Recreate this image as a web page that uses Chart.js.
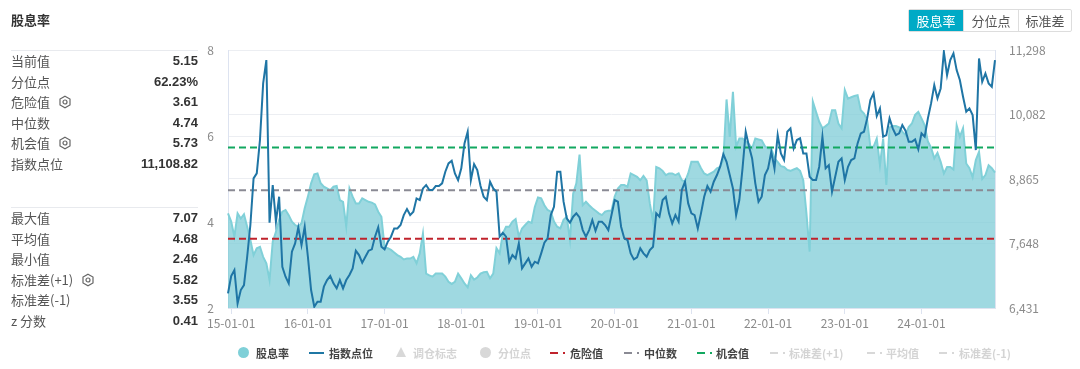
<!DOCTYPE html>
<html>
<head>
<meta charset="utf-8">
<script src="https://cdn.jsdelivr.net/npm/chart.js@4/dist/chart.umd.min.js"></script>
<style>
  html, body { margin: 0; padding: 0; background: #fff; }
  body { width: 1080px; height: 369px; position: relative; overflow: hidden; font-family: "Noto Sans CJK SC", sans-serif; }
  canvas { position: absolute; left: 0; top: 0; }
  .title { position: absolute; left: 11px; top: 11px; font-size: 13px; line-height: 18px; font-weight: 700; color: #333; }
  .rule { position: absolute; left: 11px; width: 187px; height: 1px; background: #e8eaee; }
  .row { position: absolute; left: 11px; width: 187px; height: 20px; line-height: 20px; font-size: 13px; color: #555; }
  .row b { position: absolute; right: 0; top: 0; font-family: "Liberation Sans", sans-serif; font-size: 13px; color: #333; }
  .row svg { position: absolute; top: 3px; }
  .btns { position: absolute; left: 908px; top: 9px; height: 23px; width: 164px; display: flex; box-sizing: border-box; border: 1px solid #ddd; border-radius: 2px; }
  .btns span { height: 21px; line-height: 21px; text-align: center; font-size: 13px; color: #555; border-left: 1px solid #ddd; box-sizing: border-box; }
  .btns span.on { background: #00aac6; color: #fff; border-left: 0; }
  .lg { position: absolute; top: 345px; height: 16px; line-height: 16px; font-size: 11px; font-weight: 700; color: #444; white-space: nowrap; }
  .lg.off { color: #d4d4d4; }
  .mk { position: absolute; }
</style>
</head>
<body>
<canvas id="yield_chart" width="1080" height="369"></canvas>
<div class="title">股息率</div>
<div class="btns"><span class="on" style="width:54px">股息率</span><span style="width:55px">分位点</span><span style="width:53px">标准差</span></div>
<div id="side"></div>
<div id="legend"></div>

<script>
// sidebar numbers
var sideTop = [["当前值", "5.15"], ["分位点", "62.23%"], ["危险值", "3.61", 47], ["中位数", "4.74"], ["机会值", "5.73", 47], ["指数点位", "11,108.82"]];
var sideBottom = [["最大值", "7.07"], ["平均值", "4.68"], ["最小值", "2.46"], ["标准差(+1)", "5.82", 70], ["标准差(-1)", "3.55"], ["z 分数", "0.41"]];

var leftTicks = [2, 4, 6, 8];
var rightTicks = [6431, 7648, 8865, 10082, 11298];

var dangerValue = 3.61;
var medianValue = 4.74;
var chanceValue = 5.73;

// half-month samples, 14-12-15 to 24-12-15
var dates = ["14-12-15"];
for (var yy = 15; yy <= 24; yy++) {
  for (var mm = 1; mm <= 12; mm++) {
    var m = (mm < 10 ? "0" : "") + mm;
    dates.push(yy + "-" + m + "-01");
    dates.push(yy + "-" + m + "-15");
  }
}

var yieldValues = [
  4.20,4.01,3.66,4.20,4.08,4.18,3.89,3.58,3.23,3.39,3.42,3.19,3.04,2.65,3.54,3.77,4.05,4.24,4.28,4.16,
  4.01,3.93,3.89,3.97,4.32,4.59,4.90,5.11,5.13,4.90,4.82,4.78,4.74,4.82,4.84,4.51,4.47,3.90,4.78,4.59,
  4.43,4.43,4.55,4.51,4.47,4.45,4.41,4.24,4.12,3.41,3.39,3.35,3.29,3.23,3.19,3.13,3.15,3.15,3.19,3.04,
  3.27,3.73,2.80,2.76,2.73,2.80,2.80,2.80,2.73,2.61,2.56,2.61,2.80,2.69,2.57,2.48,2.76,2.66,2.71,2.80,
  2.83,2.84,2.69,2.80,3.39,3.27,3.73,3.89,3.89,4.01,4.07,3.66,3.85,3.93,4.01,3.98,4.35,4.57,4.55,4.39,
  4.28,4.24,4.01,3.89,3.85,4.05,4.12,3.58,4.66,4.90,5.57,4.39,4.47,4.39,4.32,4.26,4.20,4.16,4.24,4.26,
  4.26,4.59,4.78,4.86,4.86,4.82,5.13,5.09,5.05,4.97,5.07,4.97,4.43,4.01,5.28,5.25,5.19,5.09,5.13,5.13,
  5.09,5.13,4.97,4.94,5.13,5.40,5.40,5.40,5.25,5.13,5.09,5.13,5.17,5.25,5.28,5.44,6.85,5.98,7.03,5.75,
  5.94,5.94,5.87,5.81,5.71,5.94,5.92,5.90,5.76,5.71,5.71,5.48,5.40,5.30,5.28,5.21,5.19,5.22,5.25,5.19,
  4.97,4.20,3.31,6.80,6.56,6.33,6.18,6.23,6.29,6.60,6.60,6.29,6.18,7.07,6.87,6.90,6.93,6.95,6.60,6.52,
  6.37,5.75,5.75,5.94,5.32,5.94,4.86,6.20,6.23,6.23,6.20,6.10,6.02,6.21,6.29,6.49,6.56,6.41,6.25,5.87,
  5.73,5.48,5.61,5.40,5.13,5.28,5.28,5.22,6.25,5.98,6.18,5.36,5.25,5.04,5.44,5.63,5.00,5.09,5.32,5.25,
  5.15
];

var indexValues = [
  6707,7034,7147,6518,6770,6864,7398,7996,8876,8970,9599,10668,11108,8040,8750,8059,8530,7210,7021,6896,
  7493,7650,7952,7618,7964,7398,6770,6455,6550,6550,6833,6958,7034,6896,6801,6958,6801,6958,7053,7178,
  7512,7430,7285,7398,7512,7537,7776,7952,7587,7537,7681,7776,7933,7933,7996,8184,8297,8184,8247,8499,
  8467,8687,8750,8656,8656,8731,8731,8782,9002,9159,9209,8970,8844,9065,9536,9756,8844,9146,9033,8738,
  8530,8467,8813,8687,8624,7776,7851,7776,7304,7430,7367,7650,7178,7273,7367,7210,7304,7273,7461,7663,
  7744,8184,8341,9002,9002,8436,8121,8040,8153,8216,8140,7901,7776,7901,8090,7889,8059,8059,7996,7901,
  8184,8467,8436,7964,7744,7713,7461,7348,7386,7556,7461,7398,7524,7587,8216,8153,8467,8530,8216,8027,
  8184,8059,8656,8813,8404,8216,8184,7933,8216,8530,8731,8624,8813,8939,9096,9335,9190,8939,8687,8184,
  8467,9065,9756,9486,9253,8782,8436,8530,8939,9065,9379,9065,9693,9347,9222,9756,9819,9442,9599,9631,
  9347,9347,8907,8844,8844,9096,9662,9065,9127,8624,8907,9190,9253,8844,9096,9222,9253,9536,9725,9756,
  10008,10353,10479,10052,10196,9662,9693,10008,9819,9693,9725,9882,9775,9567,9567,9611,9423,9725,9662,10008,
  10290,10636,10385,10573,11265,10825,11108,11234,10919,10731,10416,10133,10196,10070,9410,11139,10699,10856,10668,10605,
  11108
];

function sideRows(rows, top) {
  var html = "";
  for (var i = 0; i < rows.length; i++) {
    var y = top + Math.round(i * 20.5);
    var gear = "";
    if (rows[i][2]) {
      gear = '<svg style="left:' + rows[i][2] + 'px" width="14" height="14" viewBox="0 0 14 14">' +
        '<polygon points="7,1.2 12,4 12,10 7,12.8 2,10 2,4" fill="none" stroke="#666" stroke-width="1.2"/>' +
        '<circle cx="7" cy="7" r="2" fill="none" stroke="#666" stroke-width="1.2"/></svg>';
    }
    html += '<div class="row" style="top:' + y + 'px">' + rows[i][0] + gear + '<b>' + rows[i][1] + '</b></div>';
  }
  return html;
}

document.getElementById("side").innerHTML =
  '<div class="rule" style="top:50px"></div>' + sideRows(sideTop, 51) +
  '<div class="rule" style="top:207px"></div>' + sideRows(sideBottom, 208);

// legend row: text, text x, marker type, marker x, colour, switched off
var legendItems = [
  ["股息率", 256, "circle", 238, "#7fd0d8", false],
  ["指数点位", 329, "line", 309, "#1f77a4", false],
  ["调仓标志", 413, "triangle", 396, "#d8d8d8", true],
  ["分位点", 498, "circle", 480, "#d8d8d8", true],
  ["危险值", 570, "dash", 550, "#c0232c", false],
  ["中位数", 644, "dash", 624, "#8a8a94", false],
  ["机会值", 716, "dash", 697, "#12a860", false],
  ["标准差(+1)", 789, "dash", 770, "#d8d8d8", true],
  ["平均值", 886, "dash", 867, "#d8d8d8", true],
  ["标准差(-1)", 959, "dash", 939, "#d8d8d8", true]
];

var legendHtml = "";
legendItems.forEach(function (it) {
  var x = it[3], c = it[4];
  if (it[2] == "circle") {
    legendHtml += '<div class="mk" style="left:' + x + 'px;top:347px;width:11px;height:11px;border-radius:50%;background:' + c + '"></div>';
  } else if (it[2] == "triangle") {
    legendHtml += '<div class="mk" style="left:' + x + 'px;top:347px;width:0;height:0;border-left:5px solid transparent;border-right:5px solid transparent;border-bottom:10px solid ' + c + '"></div>';
  } else if (it[2] == "line") {
    legendHtml += '<div class="mk" style="left:' + x + 'px;top:352px;width:15px;height:2px;background:' + c + '"></div>';
  } else {
    legendHtml += '<div class="mk" style="left:' + x + 'px;top:352px;width:8px;height:2px;background:' + c + '"></div>';
    legendHtml += '<div class="mk" style="left:' + (x + 13) + 'px;top:352px;width:2px;height:2px;background:' + c + '"></div>';
  }
  legendHtml += '<div class="lg' + (it[5] ? ' off' : '') + '" style="left:' + it[1] + 'px">' + it[0] + '</div>';
});
document.getElementById("legend").innerHTML = legendHtml;

function flatLine(v) {
  return dates.map(function () { return v; });
}

function dashed(label, v, color) {
  return {
    label: label,
    data: flatLine(v),
    yAxisID: "y",
    borderColor: color,
    borderWidth: 2,
    borderDash: [7, 4],
    pointRadius: 0,
    fill: false,
    order: 1
  };
}

var tickFont = { family: "'Noto Sans CJK SC', sans-serif", size: 12 };

var ctx = document.getElementById("yield_chart").getContext("2d");
var yield_chart = new Chart(ctx, {
  type: "line",
  data: {
    labels: dates,
    datasets: [
      {
        label: "指数点位",
        data: indexValues,
        yAxisID: "y1",
        borderColor: "#1f75a5",
        borderWidth: 2,
        pointRadius: 0,
        tension: 0,
        fill: false,
        order: 0
      },
      dashed("危险值", dangerValue, "#c0232c"),
      dashed("中位数", medianValue, "#8a8a94"),
      dashed("机会值", chanceValue, "#12a860"),
      {
        label: "股息率",
        data: yieldValues,
        yAxisID: "y",
        borderColor: "#80d0d8",
        borderWidth: 2,
        backgroundColor: "rgba(126,204,214,0.74)",
        pointRadius: 0,
        tension: 0,
        fill: "start",
        order: 2
      }
    ]
  },
  options: {
    responsive: false,
    animation: false,
    layout: { padding: { top: 50, left: 0, right: 0, bottom: 0 } },
    plugins: { legend: { display: false }, title: { display: false }, tooltip: { enabled: false } },
    scales: {
      x: {
        type: "category",
        offset: false,
        afterFit: function (s) { s.height = 61; },
        afterBuildTicks: function (s) {
          s.ticks = s.ticks.filter(function (t) {
            return dates[t.value].slice(3) == "01-01";
          });
        },
        grid: { drawOnChartArea: false, drawTicks: true, tickLength: 6, tickColor: "#dde3f0" },
        border: { color: "#dde3f0" },
        ticks: { autoSkip: false, maxRotation: 0, minRotation: 0, padding: 2, color: "#8a8a8a", font: tickFont }
      },
      y: {
        position: "left",
        min: 2,
        max: 8,
        afterFit: function (s) { s.width = 228; },
        afterBuildTicks: function (s) {
          s.ticks = leftTicks.map(function (v) { return { value: v }; });
        },
        grid: { color: "#eceef2", drawTicks: false },
        border: { color: "#dde3f0" },
        ticks: { padding: 14, color: "#8a8a8a", font: tickFont }
      },
      y1: {
        position: "right",
        min: 6431,
        max: 11298,
        afterFit: function (s) { s.width = 85; },
        afterBuildTicks: function (s) {
          s.ticks = rightTicks.map(function (v) { return { value: v }; });
        },
        grid: { color: "#eceef2", drawTicks: false },
        border: { color: "#dde3f0" },
        ticks: {
          padding: 14,
          color: "#8a8a8a",
          font: tickFont,
          callback: function (v) { return v.toLocaleString("en-US"); }
        }
      }
    }
  }
});
</script>
</body>
</html>
